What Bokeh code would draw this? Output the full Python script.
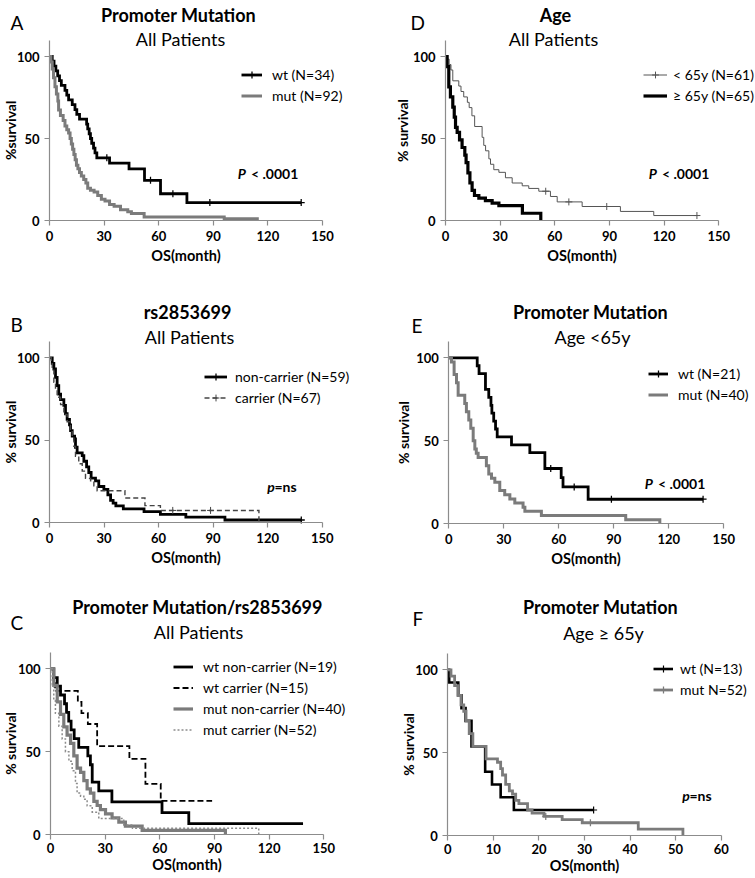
import math
from bokeh.plotting import figure
from bokeh.models import Range1d, Label, Legend, LegendItem, FixedTicker
from bokeh.layouts import row, column
from bokeh.embed import file_html
from bokeh.resources import INLINE

# ---------------- data (months, % survival; last point = end of follow-up) ----------------
# A: Promoter mutation, all patients
a_wt_t = [0, 1.5, 2.5, 3.5, 4.5, 5.5, 6.5, 8.5, 9.5, 10.5, 12.5, 14, 15, 16.5, 20.4, 21, 21.8, 22.5, 23.2, 24.2, 25, 26, 33, 43.7, 52.2, 61, 75.5, 138.3]
a_wt_s = [100, 97.1, 94.1, 91.2, 88.2, 85.3, 82.4, 79.4, 76.5, 73.5, 70.6, 67.6, 64.7, 61.8, 58.8, 55.9, 52.9, 50.0, 47.1, 44.1, 41.2, 38.2, 35.0, 31.5, 24.5, 16.3, 10.9, 10.9]
a_wt_ct = [31.5, 55.5, 67.8, 88.1, 138.3]
a_wt_cs = [38.2, 24.5, 16.3, 10.9, 10.9]
a_mut_t = [0, 0.8, 1.5, 2.2, 3.0, 3.8, 4.6, 5.0, 6.0, 7.5, 8.5, 9.5, 10.5, 11.3, 12.0, 12.7, 13.4, 14.1, 14.8, 15.6, 16.5, 17.5, 18.8, 20.0, 21.0, 22.5, 24.5, 26.5, 28.5, 30.5, 33.0, 35.5, 39.0, 43.0, 45.0, 52.0, 96.0, 115.0]
a_mut_s = [100, 96.7, 92.4, 87.0, 81.5, 77.2, 72.8, 67.4, 64.1, 60.9, 57.6, 55.4, 53.3, 50.0, 46.7, 43.5, 40.2, 37.0, 33.7, 31.5, 29.3, 27.2, 25.0, 22.8, 19.6, 18.5, 17.4, 15.2, 13.0, 11.9, 9.8, 8.7, 6.5, 5.4, 4.3, 2.2, 1.1, 1.1]
a_mut_ct = []
a_mut_cs = []

# D: Age, all patients
d_young_t = [0, 1, 2, 3, 4, 7.3, 8.5, 10, 12, 13, 14.5, 16, 20.1, 21, 22, 23.8, 24.7, 26.5, 29.3, 32.9, 36.6, 42.1, 45.7, 51.2, 57.6, 61.3, 75, 96, 114.3, 138]
d_young_s = [100, 98.4, 95.1, 91.8, 85.2, 82.0, 78.7, 75.4, 72.1, 68.9, 63.9, 57.4, 50.8, 45.9, 42.6, 37.7, 34.4, 31.1, 29.5, 26.2, 23.0, 21.3, 19.7, 18.0, 14.8, 11.5, 8.7, 5.7, 3.2, 3.2]
d_young_ct = [55, 67.7, 88.5, 138]
d_young_cs = [18.0, 11.5, 8.7, 3.2]
d_old_t = [0, 0.9, 1.8, 2.7, 4, 4.8, 5.5, 6.4, 7.7, 9.1, 10.6, 11.3, 12.3, 13.4, 14.6, 15.9, 18.3, 21.9, 25.6, 29.3, 42.2, 52.3]
d_old_s = [100, 93.8, 81.5, 75.4, 69.2, 63.1, 56.9, 53.8, 49.2, 44.6, 40.0, 35.4, 29.2, 23.1, 18.5, 15.4, 13.8, 12.3, 10.8, 9.2, 4.6, 0]

# B: rs2853699, all patients
b_non_t = [0, 1.5, 2.4, 3.3, 4.2, 5.1, 6.1, 7.9, 8.8, 9.7, 11.0, 11.6, 12.5, 13.8, 14.3, 15.2, 18.0, 18.9, 20.4, 21.6, 22.9, 25.3, 27.1, 29.9, 32.1, 33.6, 35.0, 36.5, 40.6, 52.0, 61.0, 75.0, 96.5, 138.5]
b_non_s = [100, 96.6, 93.2, 88.1, 83.1, 78.0, 74.6, 71.2, 66.1, 62.7, 59.3, 55.9, 52.5, 50.8, 45.8, 42.4, 40.7, 37.3, 33.9, 30.5, 27.1, 25.4, 22.0, 20.3, 16.9, 13.6, 11.9, 10.2, 8.5, 6.8, 5.1, 3.4, 1.7, 1.7]
b_non_ct = [138.5]
b_non_cs = [1.7]
b_car_t = [0, 1.0, 1.5, 2.4, 3.3, 4.2, 6.1, 7.9, 9.7, 11.6, 12.5, 13.4, 14.3, 16.1, 18.0, 19.8, 22.6, 24.4, 26.2, 41.5, 52.5, 61.0, 115.2]
b_car_s = [100, 97.0, 92.5, 85.1, 80.6, 76.1, 71.6, 65.7, 61.2, 56.7, 52.2, 46.3, 40.3, 35.8, 31.3, 26.9, 25.4, 22.4, 19.4, 15.0, 10.4, 7.5, 0]
b_car_ct = [67.8, 88.6]
b_car_cs = [7.5, 7.5]

# E: Promoter mutation, age < 65y
e_wt_t = [0, 15.5, 16.5, 20.0, 21.8, 23.0, 23.5, 24.5, 25.5, 26.4, 34.2, 44.2, 52.4, 61.3, 62.3, 76.0, 138.7]
e_wt_s = [100, 95.2, 90.5, 81.0, 76.2, 71.4, 66.7, 61.9, 57.1, 52.4, 47.6, 42.9, 33.3, 27.8, 22.2, 14.8, 14.8]
e_wt_ct = [55.6, 68.4, 88.7, 138.7]
e_wt_cs = [33.3, 22.2, 14.8, 14.8]
e_mut_t = [0, 1.45, 2.9, 4.2, 5.1, 8.7, 9.6, 10.9, 12.0, 13.3, 14.2, 15.0, 16.0, 20.5, 21.8, 23.3, 25.1, 27.8, 30.5, 33.3, 36.0, 40.5, 41.5, 50.5, 96.5, 115.1]
e_mut_s = [100, 97.5, 90.0, 85.0, 77.5, 72.5, 67.5, 62.5, 57.5, 50.0, 45.0, 42.5, 40.0, 35.0, 30.0, 27.5, 25.0, 20.0, 17.5, 15.0, 12.5, 10.0, 7.5, 5.0, 2.5, 0]
e_mut_ct = []
e_mut_cs = []

# C: Promoter mutation / rs2853699, all patients
c_wtn_t = [0, 1.8, 3.7, 5.5, 7.7, 8.8, 10.0, 11.3, 13.0, 15.5, 20.5, 21.9, 22.9, 26.5, 33.7, 61.2, 75.9, 138.6]
c_wtn_s = [100, 94.7, 89.5, 84.2, 78.9, 73.7, 68.4, 63.2, 57.9, 52.6, 47.4, 42.1, 31.6, 26.3, 19.7, 13.2, 6.6, 6.6]
c_wtc_t = [0, 1.3, 2.5, 15.0, 17.0, 20.5, 25.6, 43.3, 52.1, 60.5, 88.7]
c_wtc_s = [100, 93.3, 86.7, 80.0, 73.3, 66.7, 53.3, 45.7, 30.5, 20.3, 20.3]
c_mutn_t = [0, 1.8, 3.7, 5.5, 7.3, 9.1, 11.0, 12.8, 14.6, 16.5, 18.3, 20.1, 21.9, 23.8, 25.6, 27.4, 30.2, 33.8, 37.5, 41.1, 50.3, 96.0]
c_mutn_s = [100, 90, 80, 72.5, 65, 60, 55, 47.5, 40, 37.5, 32.5, 27.5, 25, 20, 17.5, 15, 12.5, 10, 7.5, 5, 2.5, 0]
c_mutc_t = [0, 1.0, 1.8, 2.7, 4.6, 6.4, 8.2, 10.1, 11.9, 13.7, 14.6, 16.5, 18.3, 20.1, 22.9, 26.5, 40.2, 45.0, 114.3]
c_mutc_s = [100, 90.4, 80.8, 73.1, 65.4, 57.7, 50.0, 44.2, 38.5, 30.8, 25.0, 23.1, 21.2, 17.3, 13.5, 9.6, 5.8, 3.8, 0]

# F: Promoter mutation, age >= 65y
f_wt_t = [0, 0.3, 2.3, 3.0, 3.9, 5.2, 8.2, 9.7, 11.6, 14.5, 32.0]
f_wt_s = [100, 92.3, 84.6, 76.9, 69.2, 53.8, 38.5, 30.8, 23.1, 15.4, 15.4]
f_wt_ct = [32.0]
f_wt_cs = [15.4]
f_mut_t = [0, 0.7, 1.5, 2.2, 2.9, 3.5, 4.0, 4.7, 5.5, 8.4, 10.9, 11.6, 12.0, 12.7, 13.5, 14.2, 14.9, 15.6, 17.5, 18.5, 21.1, 25.1, 29.5, 41.8, 51.6]
f_mut_s = [100, 96.2, 90.4, 84.6, 78.8, 75.0, 69.2, 61.5, 53.8, 46.2, 44.2, 40.4, 36.5, 30.8, 26.9, 25.0, 21.2, 19.2, 15.4, 13.5, 11.5, 9.6, 7.7, 3.8, 0]
f_mut_ct = [21.5, 31.3]
f_mut_cs = [11.5, 7.7]

x_ticks_long = [0, 30, 60, 90, 120, 150]
x_ticks_short = [0, 10, 20, 30, 40, 50, 60]
y_ticks = [0, 50, 100]

# ---------------- layout helpers ----------------
FONT = "Lato"
COLS = [(0, 375), (375, 754)]
ROWS = [(0, 290), (290, 580), (580, 877)]
BLACK = "#000000"
GRAY = "#7b7b7b"
AXIS = "#8c8c8c"


def make_panel(L, curves, leg, texts, ylab):
    fx0, fx1 = COLS[L["col"]]
    fy0, fy1 = ROWS[L["row"]]
    W, H = fx1 - fx0, fy1 - fy0
    xmax = L["xmax"]
    px0, px1 = L["x0"] - fx0, L["x1"] - fx0
    py100, py0 = L["y100"] - fy0, L["y0"] - fy0
    kx = (px1 - px0) / xmax
    ky = (py0 - py100) / 100.0
    xlo = -px0 / kx
    xhi = xlo + W / kx
    yhi = py0 / ky
    ylo = yhi - H / ky

    def dx(rx):
        return (rx - fx0 - px0) / kx

    def dy(ry):
        return (py0 - (ry - fy0)) / ky

    p = figure(width=W, height=H, x_range=Range1d(xlo, xhi), y_range=Range1d(ylo, yhi),
               min_border=0, output_backend="svg", toolbar_location=None)
    p.title.visible = False
    p.outline_line_color = None
    p.xgrid.visible = False
    p.ygrid.visible = False
    p.background_fill_color = "white"
    p.border_fill_color = "white"

    p.xaxis.ticker = FixedTicker(ticks=L["xticks"])
    p.yaxis.ticker = FixedTicker(ticks=y_ticks)
    p.xaxis.fixed_location = 0
    p.yaxis.fixed_location = 0
    p.xaxis.bounds = (0, xmax)
    p.yaxis.bounds = (0, 110)
    for ax in (p.xaxis, p.yaxis):
        ax.axis_line_color = AXIS
        ax.axis_line_width = 1.2
        ax.major_tick_line_color = AXIS
        ax.major_tick_line_width = 1.2
        ax.major_tick_out = 5
        ax.major_tick_in = 0
        ax.minor_tick_line_color = None
        ax.major_label_text_font = FONT
        ax.major_label_text_font_size = "13px"
        ax.major_label_text_font_style = "bold"
        ax.major_label_text_color = "black"
        ax.major_label_standoff = 5
    p.xaxis.major_label_standoff = L.get("xstand", 5)
    p.xaxis.axis_label = "OS(month)"
    p.xaxis.axis_label_text_font = FONT
    p.xaxis.axis_label_text_font_size = "14.5px"
    p.xaxis.axis_label_text_font_style = "bold"
    p.xaxis.axis_label_text_color = "black"
    p.xaxis.axis_label_standoff = L.get("lstand", 3)

    items = []
    for c in curves:
        r = p.step(x=c["t"], y=c["s"], mode="after", line_color=c["color"],
                   line_width=c["width"], line_dash=c.get("dash", "solid"), line_join="miter")
        rends = [r]
        if "ct" in c:
            rt = p.scatter(x=c["ct"], y=c["cs"], marker="cross", size=7,
                           line_color=c["color"], line_width=max(1.0, c["width"] * 0.45))
            rends.append(rt)
        items.append(LegendItem(label=c["label"], renderers=rends))

    ih, sp = 17, 4
    n = len(items)
    top = leg["row1"] - fy0 - ih / 2.0
    bottom = top + n * ih + (n - 1) * sp
    vx = leg["x"] - fx0
    vy = H - bottom
    legend = Legend(items=items, location=(vx, vy), padding=0, margin=0, spacing=sp,
                    glyph_width=leg["gw"], glyph_height=ih, label_height=ih,
                    label_standoff=leg["gap"], label_text_font=FONT,
                    label_text_font_size="14px", label_text_color="black",
                    border_line_color=None, background_fill_alpha=0)
    p.add_layout(legend)

    for (txt, rx, ry, size, style, align) in texts:
        p.add_layout(Label(x=dx(rx), y=dy(ry), text=txt, text_font=FONT,
                           text_font_size=f"{size}px", text_font_style=style,
                           text_align=align, text_baseline="alphabetic", text_color="black"))
    p.add_layout(Label(x=dx(ylab[0]), y=55, text=ylab[1], text_font=FONT, text_font_size="14px",
                       text_font_style="bold", text_align="center", text_baseline="middle",
                       angle=math.pi / 2, text_color="black"))
    return p


pA = make_panel(
    dict(col=0, row=0, x0=49, x1=322, xmax=150, y100=56, y0=220, xticks=x_ticks_long),
    [dict(t=a_wt_t, s=a_wt_s, color=BLACK, width=2.8, ct=a_wt_ct, cs=a_wt_cs, label="wt (N=34)"),
     dict(t=a_mut_t, s=a_mut_s, color=GRAY, width=3.0, ct=a_mut_ct, cs=a_mut_cs, label="mut (N=92)")],
    dict(x=241, row1=74, gw=21, gap=10),
    [("A", 10, 22, 19, "normal", "left"),
     ("Promoter Mutation", 178, 14.5, 18, "bold", "center"),
     ("All Patients", 180, 38.5, 18, "normal", "center"),
     ("P", 237.3, 173.3, 14, "bold italic", "left"),
     ("< .0001", 250.5, 173.3, 14, "bold", "left")],
    (10, "%survival"))

pD = make_panel(
    dict(col=1, row=0, x0=445, x1=718.3, xmax=150, y100=56, y0=220.3, xticks=x_ticks_long),
    [dict(t=d_young_t, s=d_young_s, color="#555555", width=1.0, ct=d_young_ct, cs=d_young_cs, label="< 65y (N=61)"),
     dict(t=d_old_t, s=d_old_s, color=BLACK, width=3.2, label="\u2265 65y (N=65)")],
    dict(x=643, row1=74, gw=24, gap=6),
    [("D", 410, 22, 19, "normal", "left"),
     ("Age", 555, 14.3, 18, "bold", "center"),
     ("All Patients", 553, 38.5, 18, "normal", "center"),
     ("P", 648.3, 173.3, 14, "bold italic", "left"),
     ("< .0001", 661.5, 173.3, 14, "bold", "left")],
    (401.7, "% survival"))

pB = make_panel(
    dict(col=0, row=1, x0=49, x1=321.7, xmax=150, y100=357.3, y0=522.3, xticks=x_ticks_long),
    [dict(t=b_non_t, s=b_non_s, color=BLACK, width=2.8, ct=b_non_ct, cs=b_non_cs, label="non-carrier (N=59)"),
     dict(t=b_car_t, s=b_car_s, color="#444444", width=1.4, dash="5 3", ct=b_car_ct, cs=b_car_cs, label="carrier (N=67)")],
    dict(x=204, row1=376, gw=23, gap=8),
    [("B", 10, 324.3, 19, "normal", "left"),
     ("rs2853699", 187, 311.7, 18, "bold", "center"),
     ("All Patients", 189, 336.7, 18, "normal", "center"),
     ("p", 266.7, 485.5, 14, "bold italic", "left"),
     ("=ns", 274, 485.5, 14, "bold", "left")],
    (10, "% survival"))

pE = make_panel(
    dict(col=1, row=1, x0=448.3, x1=723.3, xmax=150, y100=357.3, y0=523.3, xticks=x_ticks_long),
    [dict(t=e_wt_t, s=e_wt_s, color=BLACK, width=2.8, ct=e_wt_ct, cs=e_wt_cs, label="wt (N=21)"),
     dict(t=e_mut_t, s=e_mut_s, color=GRAY, width=3.0, ct=e_mut_ct, cs=e_mut_cs, label="mut (N=40)")],
    dict(x=648, row1=373.3, gw=20, gap=10),
    [("E", 411, 325, 19, "normal", "left"),
     ("Promoter Mutation", 590, 311.7, 18, "bold", "center"),
     ("Age <65y", 592, 336.7, 18, "normal", "center"),
     ("P", 644.3, 483.3, 14, "bold italic", "left"),
     ("< .0001", 657.5, 483.3, 14, "bold", "left")],
    (403.3, "% survival"))

pC = make_panel(
    dict(col=0, row=2, x0=50, x1=323.3, xmax=150, y100=668.3, y0=834, xticks=x_ticks_long,
         xstand=3, lstand=0),
    [dict(t=c_wtn_t, s=c_wtn_s, color=BLACK, width=2.8, label="wt non-carrier (N=19)"),
     dict(t=c_wtc_t, s=c_wtc_s, color=BLACK, width=1.8, dash="6 3", label="wt carrier (N=15)"),
     dict(t=c_mutn_t, s=c_mutn_s, color=GRAY, width=3.2, label="mut non-carrier (N=40)"),
     dict(t=c_mutc_t, s=c_mutc_s, color="#8c8c8c", width=1.5, dash="2 2", label="mut carrier (N=52)")],
    dict(x=173, row1=666, gw=20, gap=10),
    [("C", 10, 621.7, 19, "normal", "left"),
     ("Promoter Mutation/rs2853699", 197, 606, 18, "bold", "center"),
     ("All Patients", 198, 631.7, 18, "normal", "center")],
    (10, "% survival"))

pF = make_panel(
    dict(col=1, row=2, x0=447.3, x1=720.7, xmax=60, y100=669.3, y0=835, xticks=x_ticks_short,
         xstand=3, lstand=0),
    [dict(t=f_wt_t, s=f_wt_s, color=BLACK, width=2.6, ct=f_wt_ct, cs=f_wt_cs, label="wt (N=13)"),
     dict(t=f_mut_t, s=f_mut_s, color=GRAY, width=2.8, ct=f_mut_ct, cs=f_mut_cs, label="mut N=52)")],
    dict(x=653, row1=668.3, gw=20, gap=7),
    [("F", 412, 618.3, 19, "normal", "left"),
     ("Promoter Mutation", 600, 606.7, 18, "bold", "center"),
     ("Age \u2265 65y", 603, 632.3, 18, "normal", "center"),
     ("p", 681.7, 795, 14, "bold italic", "left"),
     ("=ns", 689, 795, 14, "bold", "left")],
    (407.7, "% survival"))

layout = column(row(pA, pD), row(pB, pE), row(pC, pF))
open("out.html", "w").write(file_html(layout, INLINE))
